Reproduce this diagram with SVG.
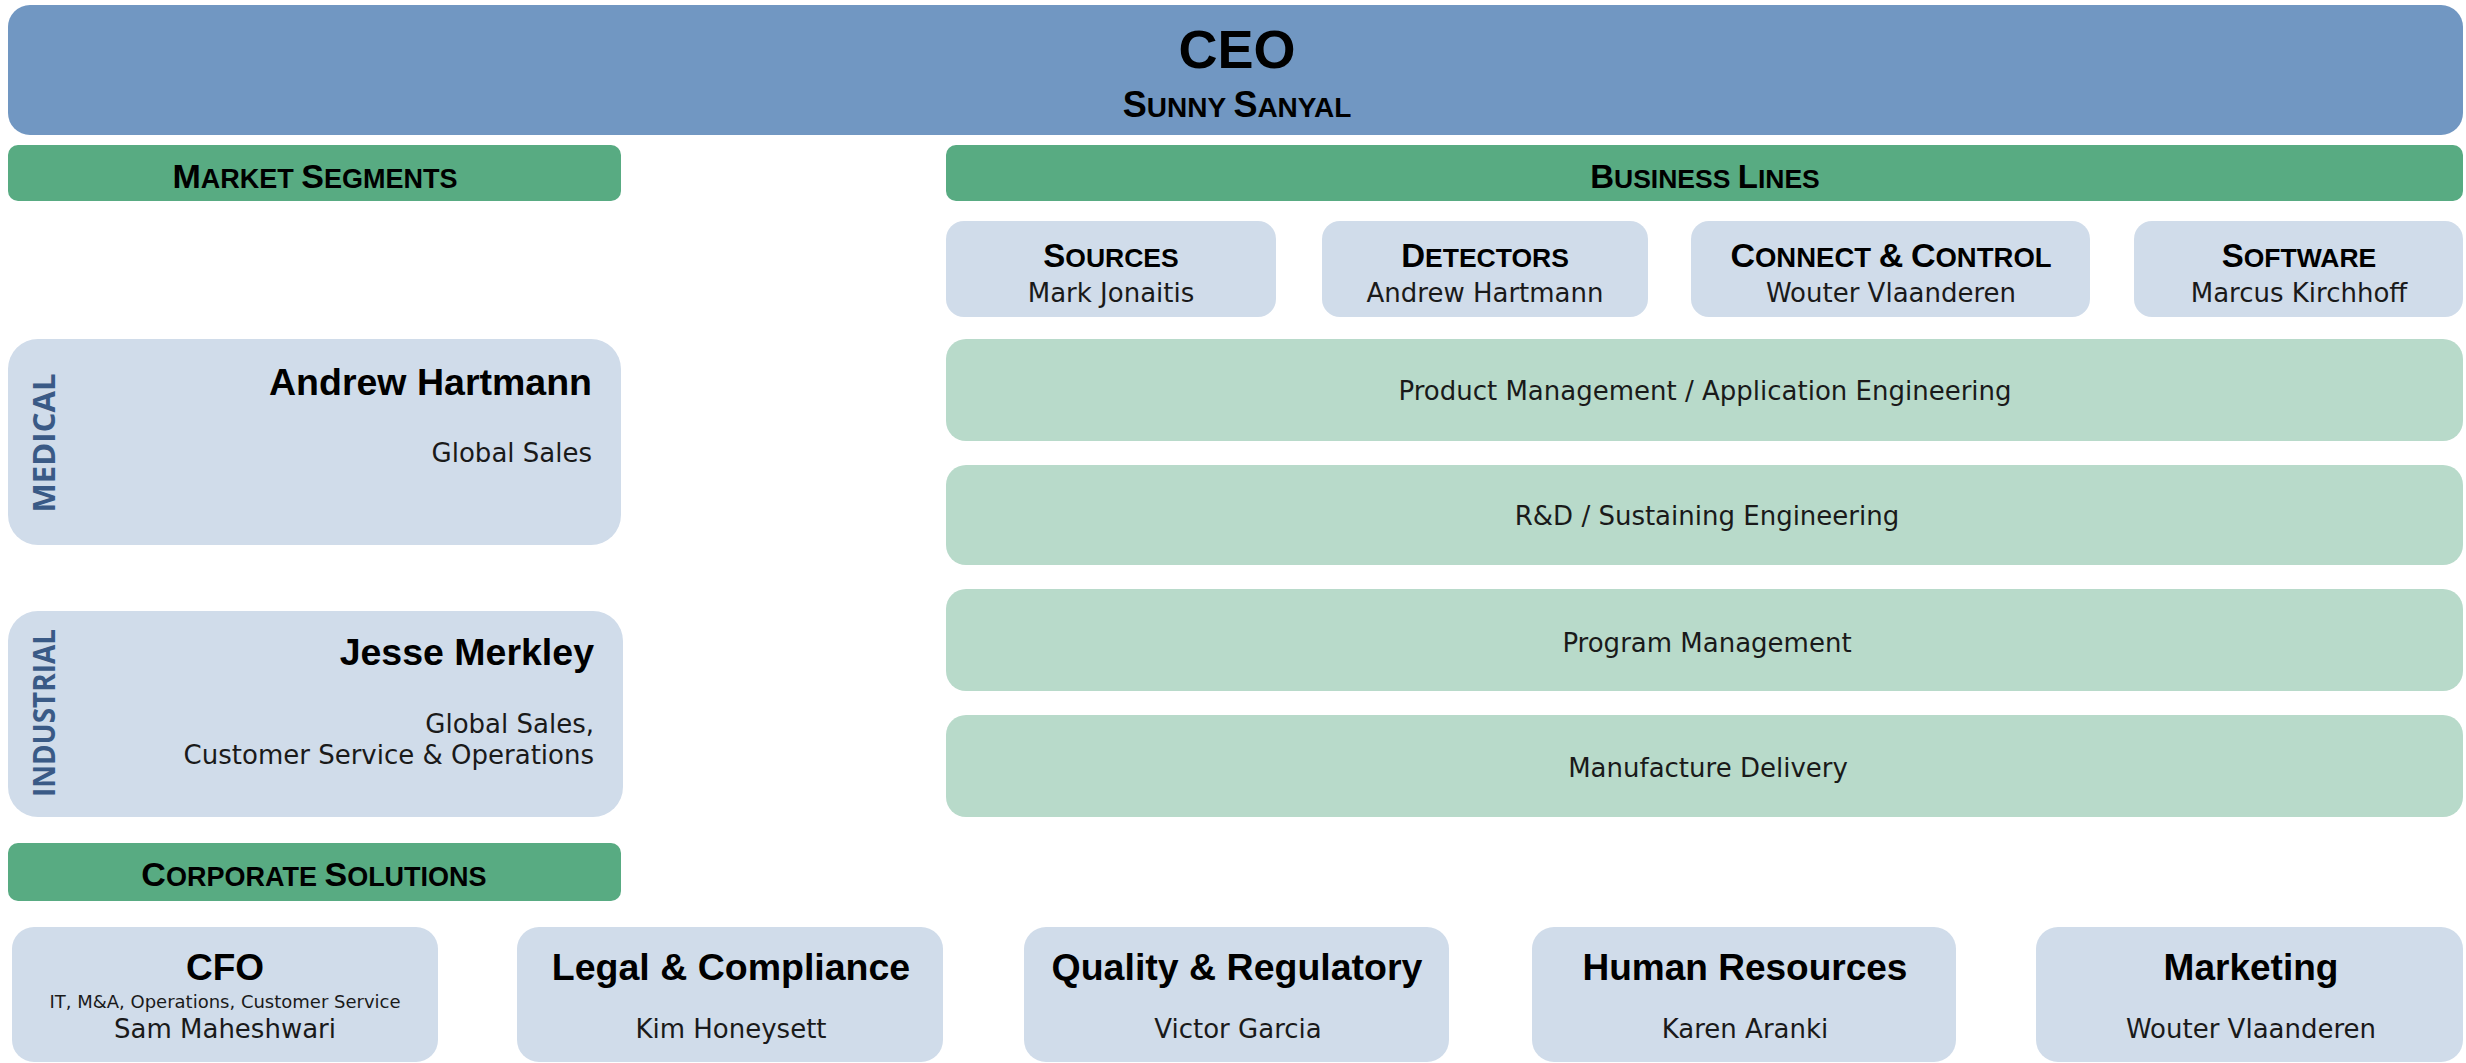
<svg xmlns="http://www.w3.org/2000/svg" width="2466" height="1063" viewBox="0 0 2466 1063">
<style>
.ceo{fill:#7197C2}
.hdr{fill:#58AB82}
.lb{fill:#D0DCEA}
.lg{fill:#B8DACA}
.b{font-family:"Liberation Sans",Arial,sans-serif;font-weight:bold;fill:#000;text-anchor:middle}
.r{font-family:"DejaVu Sans","Liberation Sans",sans-serif;fill:#1a1a1a;text-anchor:middle;font-size:26px}
.v{font-family:"Open Sans","Liberation Sans",sans-serif;font-weight:bold;fill:#3A5A86;font-size:31px;text-anchor:middle}
.end{text-anchor:end}
</style>
<rect width="2466" height="1063" fill="#FFFFFF"/>
<g id="ceo">
<rect class="ceo" x="8" y="5" width="2455" height="130" rx="22"/>
<text class="b" x="1237" y="68" font-size="54">CEO</text>
<text class="b" x="1237" y="117" font-size="36">S<tspan font-size="28">UNNY </tspan>S<tspan font-size="28">ANYAL</tspan></text>
</g>
<g id="market-segments">
<rect class="hdr" x="8" y="145" width="613" height="56" rx="10"/>
<text class="b" x="315" y="188" font-size="34">M<tspan font-size="27">ARKET </tspan>S<tspan font-size="27">EGMENTS</tspan></text>
</g>
<g id="business-lines">
<rect class="hdr" x="946" y="145" width="1517" height="56" rx="10"/>
<text class="b" x="1705" y="188" font-size="33">B<tspan font-size="26.5">USINESS </tspan>L<tspan font-size="26.5">INES</tspan></text>
</g>
<g id="sources">
<rect class="lb" x="946" y="221" width="330" height="96" rx="18"/>
<text class="b" x="1111" y="267" font-size="33">S<tspan font-size="26.5">OURCES</tspan></text>
<text class="r" x="1111" y="302">Mark Jonaitis</text>
</g>
<g id="detectors">
<rect class="lb" x="1322" y="221" width="326" height="96" rx="18"/>
<text class="b" x="1485" y="267" font-size="33">D<tspan font-size="26.5">ETECTORS</tspan></text>
<text class="r" x="1485" y="302">Andrew Hartmann</text>
</g>
<g id="connect-control">
<rect class="lb" x="1691" y="221" width="399" height="96" rx="18"/>
<text class="b" x="1891" y="267" font-size="34">C<tspan font-size="27.5">ONNECT </tspan>&amp;<tspan font-size="27.5"> </tspan>C<tspan font-size="27.5">ONTROL</tspan></text>
<text class="r" x="1891" y="302">Wouter Vlaanderen</text>
</g>
<g id="software">
<rect class="lb" x="2134" y="221" width="329" height="96" rx="18"/>
<text class="b" x="2299" y="267" font-size="33">S<tspan font-size="26.5">OFTWARE</tspan></text>
<text class="r" x="2299" y="302">Marcus Kirchhoff</text>
</g>
<g id="medical">
<rect class="lb" x="8" y="339" width="613" height="206" rx="30"/>
<text class="v" transform="translate(55,443) rotate(-90)" textLength="139" lengthAdjust="spacing">MEDICAL</text>
<text class="b end" x="592" y="395" font-size="37.5">Andrew Hartmann</text>
<text class="r end" x="592" y="462">Global Sales</text>
</g>
<g id="industrial">
<rect class="lb" x="8" y="611" width="615" height="206" rx="30"/>
<text class="v" transform="translate(55,713) rotate(-90)" textLength="168" lengthAdjust="spacingAndGlyphs">INDUSTRIAL</text>
<text class="b end" x="594" y="665" font-size="37.5">Jesse Merkley</text>
<text class="r end" x="594" y="733">Global Sales,</text>
<text class="r end" x="594" y="764">Customer Service &amp; Operations</text>
</g>
<g id="product-management">
<rect class="lg" x="946" y="339" width="1517" height="102" rx="20"/>
<text class="r" x="1705" y="400">Product Management / Application Engineering</text>
</g>
<g id="rd">
<rect class="lg" x="946" y="465" width="1517" height="100" rx="20"/>
<text class="r" x="1707" y="525">R&amp;D / Sustaining Engineering</text>
</g>
<g id="program-management">
<rect class="lg" x="946" y="589" width="1517" height="102" rx="20"/>
<text class="r" x="1707" y="652">Program Management</text>
</g>
<g id="manufacture-delivery">
<rect class="lg" x="946" y="715" width="1517" height="102" rx="20"/>
<text class="r" x="1708" y="777">Manufacture Delivery</text>
</g>
<g id="corporate-solutions">
<rect class="hdr" x="8" y="843" width="613" height="58" rx="10"/>
<text class="b" x="314" y="886" font-size="34">C<tspan font-size="27">ORPORATE </tspan>S<tspan font-size="27">OLUTIONS</tspan></text>
</g>
<g id="cfo">
<rect class="lb" x="12" y="927" width="426" height="135" rx="22"/>
<text class="b" x="225" y="980" font-size="37">CFO</text>
<text class="r" x="225" y="1008" style="font-size:18px">IT, M&amp;A, Operations, Customer Service</text>
<text class="r" x="225" y="1038">Sam Maheshwari</text>
</g>
<g id="legal">
<rect class="lb" x="517" y="927" width="426" height="135" rx="22"/>
<text class="b" x="731" y="980" font-size="37.5">Legal &amp; Compliance</text>
<text class="r" x="731" y="1038">Kim Honeysett</text>
</g>
<g id="quality">
<rect class="lb" x="1024" y="927" width="425" height="135" rx="22"/>
<text class="b" x="1237" y="980" font-size="37.5">Quality &amp; Regulatory</text>
<text class="r" x="1238" y="1038">Victor Garcia</text>
</g>
<g id="hr">
<rect class="lb" x="1532" y="927" width="424" height="135" rx="22"/>
<text class="b" x="1745" y="980" font-size="37">Human Resources</text>
<text class="r" x="1745" y="1038">Karen Aranki</text>
</g>
<g id="marketing">
<rect class="lb" x="2036" y="927" width="427" height="135" rx="22"/>
<text class="b" x="2251" y="980" font-size="37">Marketing</text>
<text class="r" x="2251" y="1038">Wouter Vlaanderen</text>
</g>
<g id="connectors"></g>
</svg>
